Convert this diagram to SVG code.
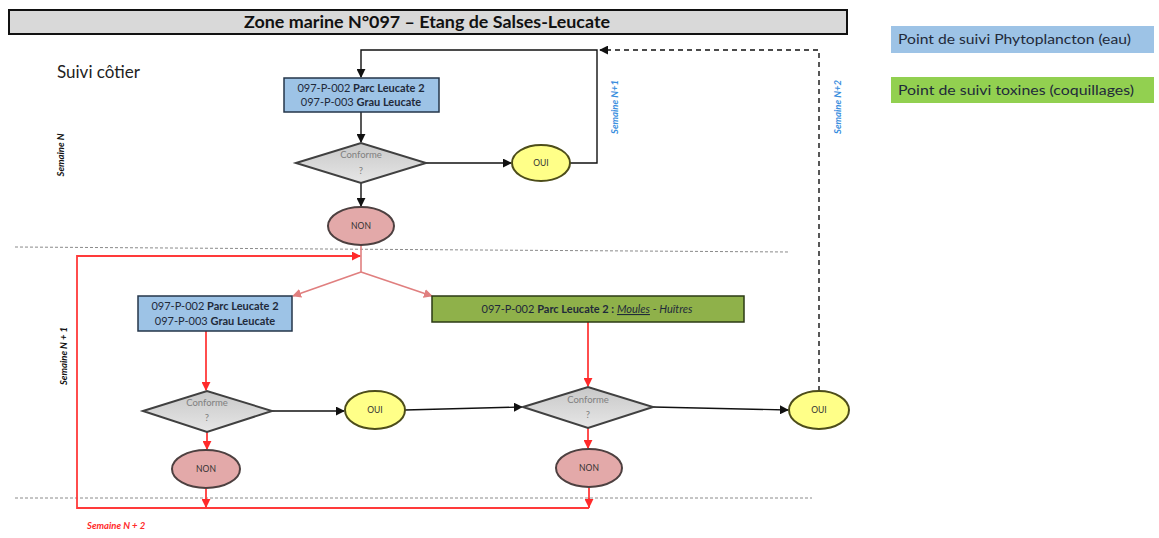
<svg xmlns="http://www.w3.org/2000/svg" width="1159" height="538" viewBox="0 0 1159 538">
<defs>
<style>
text{font-family:Lato,"Open Sans","Liberation Sans",sans-serif}
.box{stroke:#24364a;stroke-width:1.5}
.blue{fill:#9dc3e6}
.green{fill:#8fb14a;stroke:#2b3a14;stroke-width:1.5}
.dia{fill:url(#gd);stroke:#404040;stroke-width:2}
.oui{fill:#ffff88;stroke:#4d4d1a;stroke-width:2}
.non{fill:#e3a9a9;stroke:#4d4040;stroke-width:2}
.bt{font-size:11px;fill:#1f2a3a;text-anchor:middle}
.dt{font-size:9.5px;fill:#808080;text-anchor:middle}
.et{font-size:8.5px;fill:#333;text-anchor:middle}
.blk{stroke:#111;stroke-width:1.4;fill:none}
.red{stroke:#ff3a3a;stroke-width:1.8;fill:none}
.pred{stroke:#e07f7f;stroke-width:1.6;fill:none}
.sep{stroke:#8a8a8a;stroke-width:1;stroke-dasharray:3 2;fill:none}
.sem{font-size:9.5px;font-style:italic;font-weight:700}
</style>
<linearGradient id="gd" x1="0" y1="0" x2="0" y2="1"><stop offset="0" stop-color="#c8c8c8"/><stop offset="1" stop-color="#e6e6e6"/></linearGradient>
<marker id="ab" viewBox="0 0 10 10" refX="9" refY="5" markerWidth="9" markerHeight="9" markerUnits="userSpaceOnUse" orient="auto"><path d="M0,0L10,5L0,10z" fill="#111"/></marker>
<marker id="ar" viewBox="0 0 10 10" refX="9" refY="5" markerWidth="9" markerHeight="9" markerUnits="userSpaceOnUse" orient="auto"><path d="M0,0L10,5L0,10z" fill="#ff2a2a"/></marker>
<marker id="ap" viewBox="0 0 10 10" refX="9" refY="5" markerWidth="9" markerHeight="9" markerUnits="userSpaceOnUse" orient="auto"><path d="M0,0L10,5L0,10z" fill="#e07f7f"/></marker>
</defs>
<rect width="1159" height="538" fill="#fff"/>

<g id="title">
<rect x="9" y="10" width="838" height="24" fill="#d9d9d9" stroke="#111" stroke-width="2"/>
<text x="427" y="28" font-size="17" font-weight="700" fill="#111" text-anchor="middle" textLength="366" lengthAdjust="spacingAndGlyphs">Zone marine N°097 – Etang de Salses-Leucate</text>
</g>
<g id="legend">
<rect x="891" y="26" width="263" height="27" fill="#9dc3e6"/>
<text x="898" y="44" font-size="14" fill="#1f2a3a" textLength="233" lengthAdjust="spacingAndGlyphs">Point de suivi Phytoplancton (eau)</text>
<rect x="891" y="77" width="263" height="26" fill="#92d050"/>
<text x="898" y="95" font-size="14" fill="#1f2a3a" textLength="236" lengthAdjust="spacingAndGlyphs">Point de suivi toxines (coquillages)</text>
</g>
<text x="57" y="78" font-size="17" fill="#222">Suivi côtier</text>

<g id="separators">
<line class="sep" x1="15" y1="247" x2="790" y2="252"/>
<line class="sep" x1="15" y1="498" x2="812" y2="498"/>
</g>

<g id="labels">
<text class="sem" transform="translate(64,155) rotate(-90)" text-anchor="middle" fill="#111">Semaine N</text>
<text class="sem" transform="translate(67,356) rotate(-90)" text-anchor="middle" fill="#111">Semaine N + 1</text>
<text class="sem" x="87" y="529" fill="#ff2a2a" font-size="10.5">Semaine N + 2</text>
<text class="sem" transform="translate(618,107) rotate(-90)" text-anchor="middle" fill="#3a8ede" font-size="10">Semaine N+1</text>
<text class="sem" transform="translate(841,107) rotate(-90)" text-anchor="middle" fill="#3a8ede" font-size="10">Semaine N+2</text>
</g>

<g id="connectors">
<path class="blk" d="M570,163H597V50H361V77" marker-end="url(#ab)"/>
<path class="blk" d="M819,391V50H600" stroke-dasharray="5 4" marker-end="url(#ab)"/>
<path class="blk" d="M361,112V142" marker-end="url(#ab)"/>
<path class="blk" d="M426,163H511" marker-end="url(#ab)"/>
<path class="blk" d="M361,183V206" marker-end="url(#ab)"/>
<path class="pred" d="M361,245V272"/>
<path class="pred" d="M361,272L293,296" marker-end="url(#ap)"/>
<path class="pred" d="M361,272L432,296" marker-end="url(#ap)"/>
<path class="red" d="M206,489V508M589,488V508"/>
<path class="red" d="M589,508H77V256H360" marker-end="url(#ar)"/>
<path class="red" d="M206,498V507" marker-end="url(#ar)"/>
<path class="red" d="M589,498V507" marker-end="url(#ar)"/>
<path class="red" d="M206,331V390" marker-end="url(#ar)"/>
<path class="red" d="M588,322V386" marker-end="url(#ar)"/>
<path class="red" d="M207,432V449" marker-end="url(#ar)"/>
<path class="red" d="M588,428V448" marker-end="url(#ar)"/>
<path class="blk" d="M272,411H344" marker-end="url(#ab)"/>
<path class="blk" d="M405,410L522,407" marker-end="url(#ab)"/>
<path class="blk" d="M653,407L788,410" marker-end="url(#ab)"/>
</g>

<g id="box1">
<rect class="box blue" x="284" y="78" width="155" height="34"/>
<text class="bt" x="361" y="92">097-P-002 <tspan font-weight="700">Parc Leucate 2</tspan></text>
<text class="bt" x="361" y="106">097-P-003 <tspan font-weight="700">Grau Leucate</tspan></text>
</g>
<g id="dia1">
<polygon class="dia" points="296,163 361,143 426,163 361,183"/>
<text class="dt" x="361" y="158">Conforme</text>
<text class="dt" x="361" y="174">?</text>
</g>
<g id="oui1">
<ellipse class="oui" cx="541" cy="163" rx="29" ry="18"/>
<text class="et" x="541" y="166">OUI</text>
</g>
<g id="non1">
<ellipse class="non" cx="361" cy="226" rx="33" ry="19"/>
<text class="et" x="361" y="229">NON</text>
</g>

<g id="box2">
<rect class="box blue" x="138" y="296" width="154" height="35"/>
<text class="bt" x="215" y="310">097-P-002 <tspan font-weight="700">Parc Leucate 2</tspan></text>
<text class="bt" x="215" y="325">097-P-003 <tspan font-weight="700">Grau Leucate</tspan></text>
</g>
<g id="box3">
<rect class="green" x="432" y="296" width="312" height="26"/>
<text class="bt" x="587" y="313" fill="#1f2a14">097-P-002 <tspan font-weight="700">Parc Leucate 2 :</tspan> <tspan font-style="italic" text-decoration="underline">Moules</tspan> <tspan font-style="italic">- Huîtres</tspan></text>
</g>
<g id="dia2">
<polygon class="dia" points="143,411 207,391 272,411 207,432"/>
<text class="dt" x="207" y="406">Conforme</text>
<text class="dt" x="207" y="421">?</text>
</g>
<g id="oui2">
<ellipse class="oui" cx="375" cy="410" rx="30" ry="19"/>
<text class="et" x="375" y="413">OUI</text>
</g>
<g id="non2">
<ellipse class="non" cx="206" cy="469" rx="34" ry="19"/>
<text class="et" x="206" y="472">NON</text>
</g>
<g id="dia3">
<polygon class="dia" points="523,407 588,387 653,407 588,428"/>
<text class="dt" x="588" y="403">Conforme</text>
<text class="dt" x="588" y="418">?</text>
</g>
<g id="non3">
<ellipse class="non" cx="589" cy="468" rx="33" ry="19"/>
<text class="et" x="589" y="471">NON</text>
</g>
<g id="oui3">
<ellipse class="oui" cx="819" cy="410" rx="30" ry="19"/>
<text class="et" x="819" y="413">OUI</text>
</g>
</svg>
